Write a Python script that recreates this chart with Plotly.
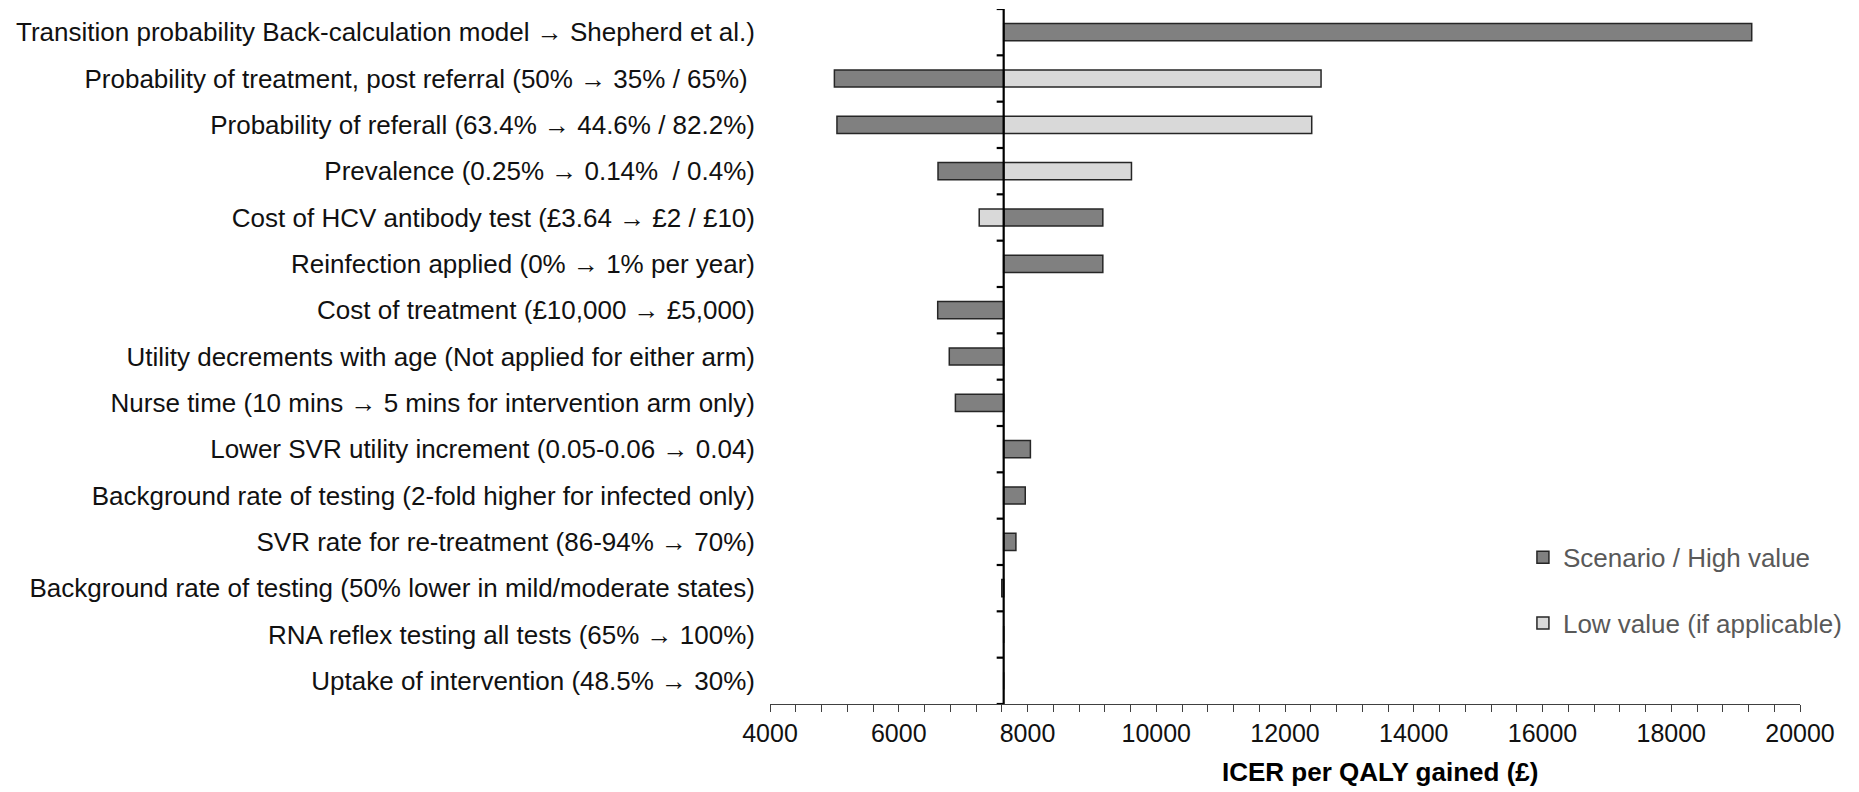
import plotly.graph_objects as go

# Tornado diagram: deterministic sensitivity analysis of the ICER
BASE_ICER = 7630

parameters = [
    "Transition probability Back-calculation model \u2192 Shepherd et al.)",
    "Probability of treatment, post referral (50% \u2192 35% / 65%) ",
    "Probability of referall (63.4% \u2192 44.6% / 82.2%)",
    "Prevalence (0.25% \u2192 0.14%  / 0.4%)",
    "Cost of HCV antibody test (\u00a33.64 \u2192 \u00a32 / \u00a310)",
    "Reinfection applied (0% \u2192 1% per year)",
    "Cost of treatment (\u00a310,000 \u2192 \u00a35,000)",
    "Utility decrements with age (Not applied for either arm)",
    "Nurse time (10 mins \u2192 5 mins for intervention arm only)",
    "Lower SVR utility increment (0.05-0.06 \u2192 0.04)",
    "Background rate of testing (2-fold higher for infected only)",
    "SVR rate for re-treatment (86-94% \u2192 70%)",
    "Background rate of testing (50% lower in mild/moderate states)",
    "RNA reflex testing all tests (65% \u2192 100%)",
    "Uptake of intervention (48.5% \u2192 30%)",
]

# ICER under the scenario / high value of each parameter
icer_high = [19250, 5000, 5040, 6610, 9170, 9170, 6605, 6785, 6880,
             8045, 7965, 7820, 7600, 7630, 7630]

# ICER under the low value (None where no low value applies)
icer_low = [None, 12560, 12415, 9615, 7250, None, None, None, None,
            None, None, None, None, None, None]

x_ticks = [4000, 6000, 8000, 10000, 12000, 14000, 16000, 18000, 20000]

FONT = "Liberation Sans, Arial, sans-serif"
DARK = "#808080"
LIGHT = "#d9d9d9"
EDGE = "#262626"

fig = go.Figure()

fig.add_trace(go.Bar(
    y=parameters,
    x=[v - BASE_ICER for v in icer_high],
    base=BASE_ICER,
    orientation="h",
    name="Scenario / High value",
    marker=dict(color=DARK, line=dict(color=EDGE, width=1.5)),
    width=0.37,
    legendgroup="high",
))

fig.add_trace(go.Bar(
    y=parameters,
    x=[(v - BASE_ICER) if v is not None else None for v in icer_low],
    base=BASE_ICER,
    orientation="h",
    name="Low value (if applicable)",
    marker=dict(color=LIGHT, line=dict(color=EDGE, width=1.5)),
    width=0.37,
    legendgroup="low",
))

# vertical axis through the base-case ICER
shapes = [dict(type="line", xref="x", yref="paper", x0=BASE_ICER, x1=BASE_ICER,
               y0=0, y1=1, line=dict(color="black", width=2.2), layer="above")]
# category boundary ticks on that axis
for i in range(len(parameters) + 1):
    shapes.append(dict(type="line", xref="x", yref="y", xsizemode="pixel",
                       xanchor=BASE_ICER, x0=-7, x1=0, y0=i - 0.5, y1=i - 0.5,
                       line=dict(color="black", width=2.2), layer="above"))

fig.update_layout(
    width=1859, height=792,
    margin=dict(l=770, r=59, t=9, b=88),
    paper_bgcolor="white", plot_bgcolor="white",
    barmode="overlay",
    bargap=0.63,
    font=dict(family=FONT, size=26, color="#000000"),
    shapes=shapes,
    showlegend=True,
    legend=dict(
        x=0.731, y=0.245, xanchor="left", yanchor="top",
        font=dict(family=FONT, size=26, color="#595959"),
        bgcolor="rgba(0,0,0,0)",
        traceorder="grouped",
        tracegroupgap=29,
        itemclick=False,
    ),
    annotations=[dict(
        text="<b>ICER per QALY gained (\u00a3)</b>",
        xref="paper", yref="paper", x=0.592, y=-0.098,
        xanchor="center", yanchor="middle", showarrow=False,
        font=dict(family=FONT, size=26, color="#000000"),
    )],
)

fig.update_xaxes(
    range=[4000, 20000],
    tickmode="array", tickvals=x_ticks, ticktext=[str(t) for t in x_ticks],
    ticks="outside", ticklen=7, tickwidth=1, tickcolor="#404040",
    minor=dict(dtick=400, tick0=4000, ticks="outside", ticklen=7,
               tickwidth=1, tickcolor="#404040", showgrid=False),
    showline=True, linecolor="#404040", linewidth=1.3,
    showgrid=False, zeroline=False,
    tickfont=dict(family=FONT, size=25, color="#111111"),
    fixedrange=True,
)

fig.update_yaxes(
    categoryorder="array", categoryarray=parameters,
    range=[len(parameters) - 0.5, -0.5],
    ticks="", showline=False, showgrid=False, zeroline=False,
    ticklabelstandoff=14,
    tickfont=dict(family=FONT, size=26, color="#111111"),
    fixedrange=True,
)

fig.write_html("out.html")
